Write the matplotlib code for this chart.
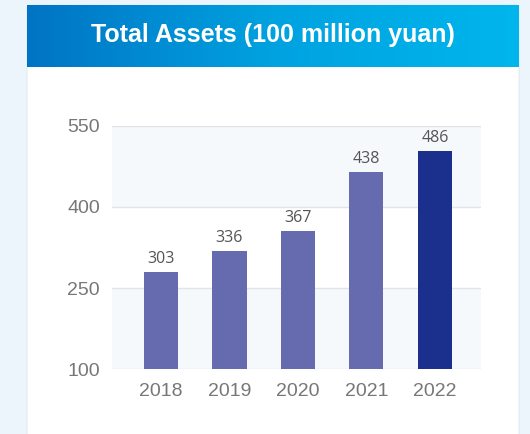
import matplotlib.pyplot as plt
import numpy as np
from matplotlib.patches import FancyBboxPatch
from matplotlib.colors import LinearSegmentedColormap

# data
years = ['2018', '2019', '2020', '2021', '2022']
bar_heights = [280, 319, 355, 464, 504]
value_labels = ['303', '336', '367', '438', '486']
yticks = [100, 250, 400, 550]

W, H = 530, 434
fig = plt.figure(figsize=(W / 100, H / 100), dpi=100)
fig.patch.set_facecolor('#ecf4fc')

# white card behind everything
card = FancyBboxPatch((27 / W, -0.05), 492 / W, (H - 5) / H + 0.05,
                      boxstyle='round,pad=0,rounding_size=0.008',
                      transform=fig.transFigure, facecolor='white',
                      edgecolor='#e3ebf3', linewidth=0.8, zorder=-5)
fig.patches.append(card)

# header with horizontal gradient
hx = fig.add_axes([27 / W, (H - 67) / H, 492 / W, 62 / H])
grad = np.linspace(0, 1, 256).reshape(1, -1)
cmap = LinearSegmentedColormap.from_list('hdr', ['#0074c4', '#00a2e0', '#00b6ec'])
hx.imshow(grad, aspect='auto', cmap=cmap, extent=[0, 1, 0, 1])
hx.set_axis_off()
hx.text(0.5, 0.52, 'Total Assets (100 million yuan)', color='white',
        fontsize=18, fontweight='bold', family='Liberation Sans',
        ha='center', va='center', transform=hx.transAxes)

# chart
ax = fig.add_axes([112.3 / W, (H - 369.3) / H, 368.4 / W, 243.6 / H])
ax.set_facecolor('white')
x = np.arange(len(years))
for lo, hi in [(100, 250), (400, 550)]:
    ax.axhspan(lo, hi, color='#f5f9fb', zorder=0, lw=0)
for t in yticks:
    ax.axhline(t, color='#e1e4e8', lw=1, zorder=1)

colors = ['#666aae'] * 4 + ['#1b308c']
ax.bar(x, [h - 100 for h in bar_heights], bottom=100, width=0.5,
       color=colors, zorder=2)
for xi, h, lab in zip(x, bar_heights, value_labels):
    ax.annotate(lab, (xi, h), xytext=(0, 3.5), textcoords='offset points',
                ha='center', va='bottom', fontsize=11.5, color='#555555',
                family='Open Sans')

ax.set_xlim(-0.71, 4.67)
ax.set_ylim(100, 550)
ax.set_yticks(yticks)
ax.set_xticks(x)
ax.set_xticklabels(years)
for s in ax.spines.values():
    s.set_visible(False)
ax.tick_params(length=0, labelsize=14, labelcolor='#777777')
ax.tick_params(axis='x', pad=10)
ax.tick_params(axis='y', pad=9)
for lab in ax.get_xticklabels() + ax.get_yticklabels():
    lab.set_family('Liberation Sans')

fig.savefig('out.png', dpi=100)
